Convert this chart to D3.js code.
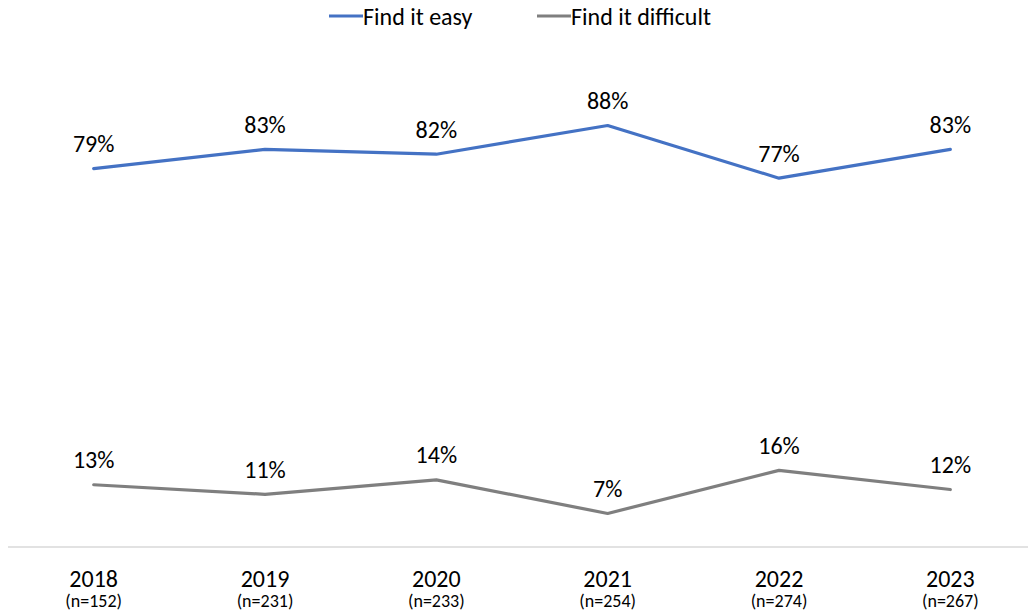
<!DOCTYPE html>
<html>
<head>
<meta charset="utf-8">
<script src="https://cdn.jsdelivr.net/npm/d3@7"></script>
<style>
  html, body { margin: 0; padding: 0; background: #fff; }
  svg { display: block; font-family: Carlito, Lato, "Noto Sans", sans-serif; }
</style>
</head>
<body>
<svg id="chart" width="1028" height="614"></svg>
<script>
// Survey years and sample sizes
const years = ["2018", "2019", "2020", "2021", "2022", "2023"];
const sampleSizes = ["(n=152)", "(n=231)", "(n=233)", "(n=254)", "(n=274)", "(n=267)"];

// Share of respondents (%)
const findEasy = [79, 83, 82, 88, 77, 83];
const findDifficult = [13, 11, 14, 7, 16, 12];

const seriesNames = ["Find it easy", "Find it difficult"];
const seriesColors = ["#4472C4", "#7F7F7F"];

const svg = d3.select("#chart");
const width = 1028, height = 614;

const x = d3.scaleBand().domain(years).range([8, 1036]);
const y = d3.scaleLinear().domain([0, 100]).range([547, 68]);

// Baseline axis
svg.append("line")
  .attr("x1", 8).attr("x2", width)
  .attr("y1", y(0)).attr("y2", y(0))
  .attr("stroke", "#D9D9D9").attr("stroke-width", 1.3);

// Category labels
const cx = d => x(d) + x.bandwidth() / 2;
const cats = svg.append("g");
cats.selectAll("text.year").data(years).join("text")
  .attr("class", "year")
  .attr("x", d => cx(d)).attr("y", 578)
  .attr("text-anchor", "middle").attr("dominant-baseline", "central")
  .attr("font-size", 24).attr("fill", "#000")
  .text(d => d);
cats.selectAll("text.n").data(years).join("text")
  .attr("class", "n")
  .attr("x", d => cx(d)).attr("y", 601)
  .attr("text-anchor", "middle").attr("dominant-baseline", "central")
  .attr("font-size", 18).attr("fill", "#000")
  .text((d, i) => sampleSizes[i]);

// Lines and value labels
const series = [findEasy, findDifficult];
const line = d3.line().x((d, i) => cx(years[i])).y(d => y(d));

series.forEach((vals, s) => {
  svg.append("path")
    .datum(vals)
    .attr("d", line)
    .attr("fill", "none")
    .attr("stroke", seriesColors[s])
    .attr("stroke-width", 3.2)
    .attr("stroke-linejoin", "round")
    .attr("stroke-linecap", "round");

  svg.append("g").selectAll("text").data(vals).join("text")
    .attr("x", (d, i) => cx(years[i]))
    .attr("y", d => y(d) - 25)
    .attr("text-anchor", "middle").attr("dominant-baseline", "central")
    .attr("font-size", 24).attr("fill", "#000")
    .text(d => d + "%");
});

// Legend
const legendItems = [{ x: 329, name: seriesNames[0], color: seriesColors[0] },
                     { x: 537, name: seriesNames[1], color: seriesColors[1] }];
const lg = svg.append("g");
legendItems.forEach(it => {
  lg.append("line")
    .attr("x1", it.x).attr("x2", it.x + 34)
    .attr("y1", 16).attr("y2", 16)
    .attr("stroke", it.color).attr("stroke-width", 3.2);
  lg.append("text")
    .attr("x", it.x + 34).attr("y", 16)
    .attr("dominant-baseline", "central")
    .attr("font-size", 24).attr("fill", "#000")
    .text(it.name);
});
</script>
</body>
</html>
